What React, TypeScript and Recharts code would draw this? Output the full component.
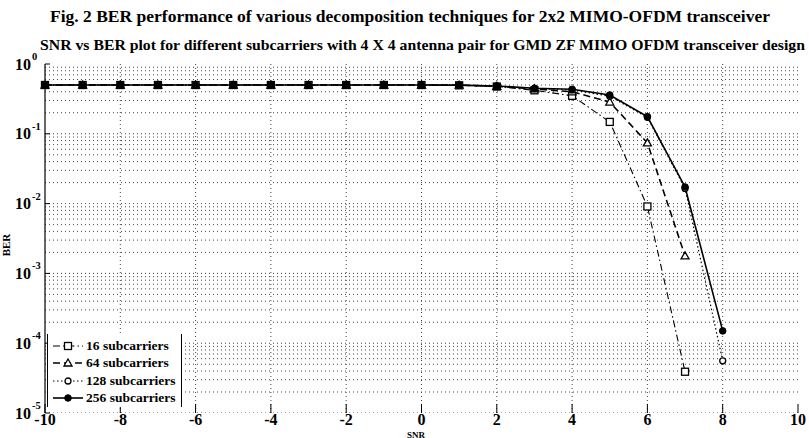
import React from 'react';
import { LineChart, Line, XAxis, YAxis, ReferenceLine, Legend } from 'recharts';

// SNR sample points (dB)
const snr = [-10, -9, -8, -7, -6, -5, -4, -3, -2, -1, 0, 1, 2, 3, 4, 5, 6, 7, 8];

// BER per subcarrier count
const ber16 = [0.5, 0.5, 0.5, 0.5, 0.5, 0.5, 0.5, 0.5, 0.5, 0.5, 0.5, 0.495, 0.475, 0.42, 0.35, 0.148, 0.0091, 0.000039, null];
const ber64 = [0.5, 0.5, 0.5, 0.5, 0.5, 0.5, 0.5, 0.5, 0.5, 0.5, 0.5, 0.497, 0.48, 0.44, 0.4, 0.285, 0.074, 0.00178, null];
const ber128 = [0.5, 0.5, 0.5, 0.5, 0.5, 0.5, 0.5, 0.5, 0.5, 0.5, 0.5, 0.498, 0.482, 0.445, 0.425, 0.345, 0.172, 0.0165, 0.000056];
const ber256 = [0.5, 0.5, 0.5, 0.5, 0.5, 0.5, 0.5, 0.5, 0.5, 0.5, 0.5, 0.498, 0.485, 0.45, 0.435, 0.36, 0.176, 0.0173, 0.00015];

const seriesNames = ['16 subcarriers', '64 subcarriers', '128 subcarriers', '256 subcarriers'];

const xTicks = [-10, -8, -6, -4, -2, 0, 2, 4, 6, 8, 10];
const xGrid = [-8, -6, -4, -2, 0, 2, 4, 6, 8];
const yTicks = [1e-5, 1e-4, 1e-3, 1e-2, 1e-1, 1];
const yExponents = ['-5', '-4', '-3', '-2', '-1', '0'];

// log-grid lines: 1..9 within every decade
const yGrid: number[] = [];
for (let d = -5; d < 0; d++) {
  for (let m = 1; m <= 9; m++) yGrid.push(m * Math.pow(10, d));
}

const data = snr.map((x, i) => ({
  snr: x,
  s16: ber16[i],
  s64: ber64[i],
  s128: ber128[i],
  s256: ber256[i],
}));

const FONT = '"Liberation Serif", "Times New Roman", serif';
const INK = '#000';
const GRID = '#444';

type Kind = 'square' | 'triangle' | 'circle' | 'dot';

const MarkerShape = ({ cx, cy, kind }: { cx: number; cy: number; kind: Kind }) => {
  if (kind === 'square') {
    return <rect x={cx - 3.5} y={cy - 3.5} width={7} height={7} fill="#fff" stroke={INK} strokeWidth={1.3} />;
  }
  if (kind === 'triangle') {
    return (
      <polygon
        points={`${cx},${cy - 4} ${cx - 4},${cy + 3} ${cx + 4},${cy + 3}`}
        fill="#fff"
        stroke={INK}
        strokeWidth={1.3}
      />
    );
  }
  if (kind === 'circle') {
    return <circle cx={cx} cy={cy} r={3} fill="#fff" stroke={INK} strokeWidth={1.3} />;
  }
  return <circle cx={cx} cy={cy} r={3.3} fill={INK} stroke={INK} strokeWidth={1} />;
};

const makeDot = (kind: Kind) => (props: any) => {
  const { cx, cy, value, index } = props;
  if (value == null || cx == null || cy == null) return <g key={`${kind}-${index}`} />;
  return (
    <g key={`${kind}-${index}`}>
      <MarkerShape cx={cx} cy={cy} kind={kind} />
    </g>
  );
};

const seriesStyle: { key: string; kind: Kind; dash?: string; width: number }[] = [
  { key: 's16', kind: 'square', dash: '7 3 1.5 3', width: 1.1 },
  { key: 's64', kind: 'triangle', dash: '7 4', width: 1.6 },
  { key: 's128', kind: 'circle', dash: '1.5 2.5', width: 1.2 },
  { key: 's256', kind: 'dot', width: 1.6 },
];

const YTick = (props: any) => {
  const { x, y, index } = props;
  return (
    <g>
      <line x1={x} x2={x + 5} y1={y} y2={y} stroke={INK} />
      <text x={x - 14} y={y + 5.5} textAnchor="end" fontFamily={FONT} fontWeight="bold" fontSize={16} fill={INK}>
        10
      </text>
      <text x={x - 13} y={y - 4} textAnchor="start" fontFamily={FONT} fontWeight="bold" fontSize={10.5} fill={INK}>
        {yExponents[index]}
      </text>
    </g>
  );
};

const XTick = (props: any) => {
  const { x, y, payload } = props;
  return (
    <g>
      <line x1={x} x2={x} y1={y - 9} y2={y} stroke={INK} />
      <text x={x} y={y + 12} textAnchor="middle" fontFamily={FONT} fontWeight="bold" fontSize={16} fill={INK}>
        {payload.value}
      </text>
    </g>
  );
};

const TopTick = (props: any) => {
  const { x, y } = props;
  return <line x1={x} x2={x} y1={y} y2={y + 6} stroke={INK} />;
};

const LegendBox = () => (
  <div
    style={{
      background: '#fff',
      borderLeft: '1px solid #000',
      borderRight: '1px solid #000',
      width: 135,
      height: 73,
      boxSizing: 'border-box',
      paddingTop: 3,
    }}
  >
    {seriesStyle.map((s, i) => (
      <div key={s.key} style={{ display: 'flex', alignItems: 'center', height: 17.5 }}>
        <svg width={38} height={14} style={{ display: 'block' }}>
          <line x1={5} x2={35} y1={7} y2={7} stroke={INK} strokeWidth={s.width} strokeDasharray={s.dash} />
          <MarkerShape cx={20} cy={7} kind={s.kind} />
        </svg>
        <span
          style={{
            fontFamily: FONT,
            fontWeight: 'bold',
            fontSize: 13.5,
            color: INK,
            whiteSpace: 'nowrap',
            lineHeight: '14px',
          }}
        >
          {seriesNames[i]}
        </span>
      </div>
    ))}
  </div>
);

export default function App() {
  return (
    <div style={{ position: 'absolute', left: 0, top: 0, width: 809, height: 438, background: '#fff' }}>
      <LineChart width={809} height={438} data={data} margin={{ top: 64, right: 11, bottom: 0, left: 0 }}>
        {yGrid.map((v) => (
          <ReferenceLine key={`h${v}`} y={v} stroke={GRID} strokeWidth={1} strokeDasharray="1 3" ifOverflow="hidden" />
        ))}
        {xGrid.map((v) => (
          <ReferenceLine key={`v${v}`} x={v} stroke={GRID} strokeWidth={1} strokeDasharray="1 3" />
        ))}
        <XAxis
          dataKey="snr"
          type="number"
          domain={[-10, 10]}
          ticks={xTicks}
          axisLine={false}
          tickLine={false}
          tickSize={0}
          tickMargin={0}
          height={25}
          tick={<XTick />}
          interval={0}
        />
        <XAxis
          xAxisId="top"
          orientation="top"
          dataKey="snr"
          type="number"
          domain={[-10, 10]}
          ticks={xTicks}
          axisLine={{ stroke: INK, strokeWidth: 1.2 }}
          tickLine={false}
          tickSize={0}
          tickMargin={0}
          height={0}
          tick={<TopTick />}
          interval={0}
        />
        <YAxis
          scale="log"
          type="number"
          domain={[1e-5, 1]}
          ticks={yTicks}
          allowDataOverflow
          width={45}
          axisLine={{ stroke: INK, strokeWidth: 1.2 }}
          tickLine={false}
          tickSize={0}
          tickMargin={0}
          tick={<YTick />}
          interval={0}
        />
        <Legend
          layout="vertical"
          align="center"
          verticalAlign="middle"
          content={() => <LegendBox />}
          wrapperStyle={{ position: 'absolute', left: 47, top: 334, width: 135, height: 73 }}
        />
        {seriesStyle.map((s) => (
          <Line
            key={s.key}
            dataKey={s.key}
            type="linear"
            stroke={INK}
            strokeWidth={s.width}
            strokeDasharray={s.dash}
            dot={makeDot(s.kind)}
            activeDot={false}
            isAnimationActive={false}
            connectNulls={false}
          />
        ))}
      </LineChart>
      <svg
        width={809}
        height={438}
        style={{ position: 'absolute', left: 0, top: 0, pointerEvents: 'none', overflow: 'hidden' }}
      >
        <text x={410} y={22} textAnchor="middle" fontFamily={FONT} fontWeight="bold" fontSize={17.5} fill={INK}>
          Fig. 2 BER performance of various decomposition techniques for 2x2 MIMO-OFDM transceiver
        </text>
        <text
          x={40}
          y={50}
          fontFamily={FONT}
          fontWeight="bold"
          fontSize={14.5}
          fill={INK}
          textLength={765}
          lengthAdjust="spacingAndGlyphs"
        >
          SNR vs BER plot for different subcarriers with 4 X 4 antenna pair for GMD ZF MIMO OFDM transceiver design
        </text>
        <text
          x={10}
          y={245}
          transform="rotate(-90 10 245)"
          textAnchor="middle"
          fontFamily={FONT}
          fontWeight="bold"
          fontSize={11}
          fill={INK}
        >
          BER
        </text>
        <text x={416} y={437.5} textAnchor="middle" fontFamily={FONT} fontWeight="bold" fontSize={9} fill={INK}>
          SNR
        </text>
      </svg>
    </div>
  );
}
